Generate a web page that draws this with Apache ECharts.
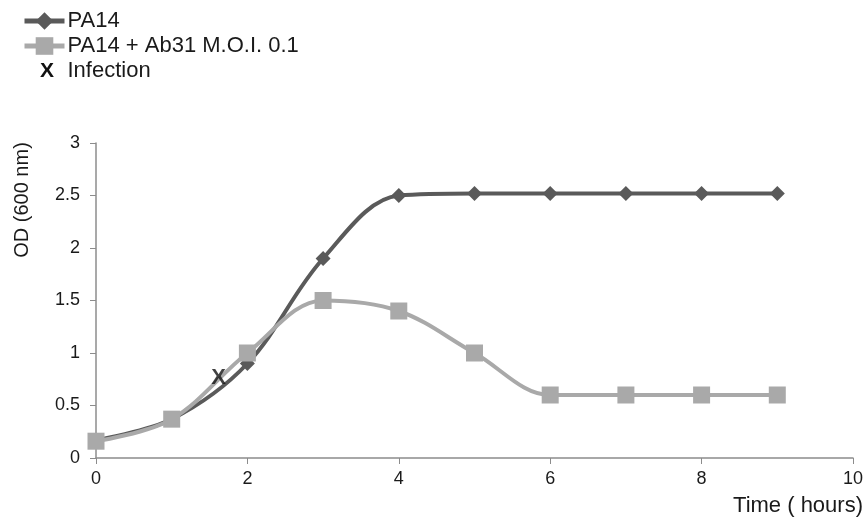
<!DOCTYPE html>
<html><head><meta charset="utf-8">
<script src="https://cdn.jsdelivr.net/npm/echarts@6/dist/echarts.min.js"></script>
<style>html,body{margin:0;padding:0;background:#fff}#c{width:866px;height:517px}</style>
</head><body><div id="c"></div>
<script>
const hours = [0,1,2,3,4,5,6,7,8,9];
const pa14 = [0.17,0.37,0.9,1.9,2.5,2.52,2.52,2.52,2.52,2.52];
const pa14Ab31 = [0.16,0.37,1.0,1.5,1.4,1.0,0.6,0.6,0.6,0.6];
const infection = [[1.62,0.76]];
const yTicks = [0,0.5,1,1.5,2,2.5,3];
const xTicks = [0,2,4,6,8,10];

const chart = echarts.init(document.getElementById('c'));
const F = 'Liberation Sans, Arial, sans-serif';
chart.setOption({
  animation:false,
  textStyle:{fontFamily:F},
  legend:{
    orient:'vertical', left:22, top:9, itemGap:1, itemWidth:40, itemHeight:22, padding:0,
    textStyle:{fontSize:22, lineHeight:24, color:'#1a1a1a', fontFamily:F, padding:[0,0,0,-2]},
    data:[
      {name:'PA14', lineStyle:{width:5, color:'#5a5a5a'}},
      {name:'PA14 + Ab31 M.O.I. 0.1', lineStyle:{width:5, color:'#a9a9a9'}},
      {name:'Infection', icon:'rect', itemStyle:{color:'rgba(0,0,0,0)', opacity:0}}
    ]
  },
  grid:{left:96, right:12, top:143, bottom:58},
  xAxis:{
    type:'value', min:0, max:10, interval:2,
    axisLine:{lineStyle:{color:'#8c8c8c', width:1.5}},
    axisTick:{show:true, length:6, lineStyle:{color:'#8c8c8c'}},
    splitLine:{show:false},
    axisLabel:{fontSize:18, color:'#1a1a1a', margin:12, fontFamily:F},
    name:'Time ( hours)', nameLocation:'end', nameGap:10,
    nameTextStyle:{fontSize:22, color:'#1a1a1a', align:'right', verticalAlign:'top', padding:[37,0,0,0], fontFamily:F}
  },
  yAxis:{
    type:'value', min:0, max:3, interval:0.5,
    axisLine:{show:true, lineStyle:{color:'#8c8c8c', width:1.5}},
    axisTick:{show:true, length:6, lineStyle:{color:'#8c8c8c'}},
    splitLine:{show:false},
    axisLabel:{fontSize:18, color:'#1a1a1a', margin:16, fontFamily:F}
  },
  graphic:[
    {type:'text', x:22, y:200, rotation:Math.PI/2,
     style:{text:'OD (600 nm)', fontSize:20, fill:'#1a1a1a', fontFamily:F, align:'center', verticalAlign:'middle'}},
    {type:'text', x:47, y:71,
     style:{text:'X', fontSize:21, fontWeight:'bold', fill:'#111', fontFamily:F, align:'center', verticalAlign:'middle'}}
  ],
  series:[
    {
      name:'PA14', type:'line', smooth:0.35,
      data:hours.map((h,i)=>[h,pa14[i]]),
      symbol:'diamond', symbolSize:15,
      lineStyle:{color:'#5a5a5a', width:4},
      itemStyle:{color:'#5a5a5a'}, z:2
    },
    {
      name:'PA14 + Ab31 M.O.I. 0.1', type:'line', smooth:0.35,
      data:hours.map((h,i)=>[h,pa14Ab31[i]]),
      symbol:'rect', symbolSize:17,
      lineStyle:{color:'#a9a9a9', width:4},
      itemStyle:{color:'#a9a9a9'}, z:3
    },
    {
      name:'Infection', type:'scatter', data:infection,
      symbol:'rect', symbolSize:1, itemStyle:{color:'rgba(0,0,0,0)'},
      label:{show:true, position:'inside', formatter:'X', fontSize:22, fontWeight:'bold', color:'#111', fontFamily:F},
      z:5
    }
  ]
});
</script></body></html>
